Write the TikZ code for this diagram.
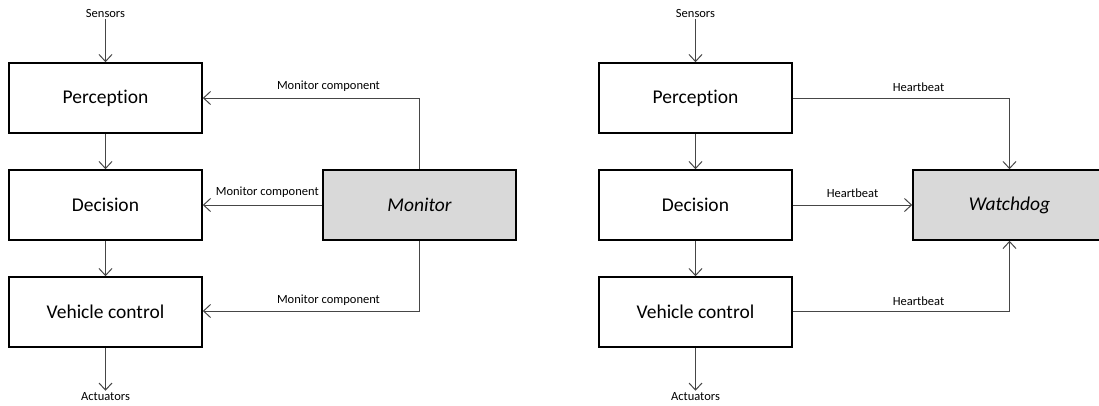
\documentclass[tikz,border=0pt]{standalone}
\usepackage{fontspec}
\setmainfont{Carlito}[Ligatures=NoCommon]
\usetikzlibrary{arrows.meta}

\definecolor{linegray}{RGB}{70,70,70}
\definecolor{boxgray}{RGB}{217,217,217}

\begin{document}
\begin{tikzpicture}[x=1pt, y=-1pt,
    block/.style={draw, line width=1.6pt, minimum width=193pt, minimum height=70pt,
                  inner sep=0pt, font=\fontsize{19.5}{22}\selectfont},
    guard/.style={block, fill=boxgray, font=\fontsize{19.5}{22}\selectfont\itshape},
    lbl/.style={font=\fontsize{12.5}{14}\selectfont, inner sep=2pt},
    conn/.style={draw=linegray, line width=1pt, -{Straight Barb[length=7pt, width=13pt]}}]

  \useasboundingbox (0,0) rectangle (1099,405);

  % left: monitor
  \node[lbl] (sens) at (105.5,13) {Sensors};
  \node[block] (perc) at (105.5,98) {Perception};
  \node[block] (dec) at (105.5,205) {Decision};
  \node[block] (veh) at (105.5,312) {Vehicle control};
  \node[lbl] (act) at (105.5,397) {Actuators};
  \node[guard] (mon) at (419.5,205) {Monitor};

  \draw[conn] (sens) -- (perc);
  \draw[conn] (perc) -- (dec);
  \draw[conn] (dec) -- (veh);
  \draw[conn] (veh) -- (act);

  \draw[conn] (mon.north) |- node[lbl, above=4pt, pos=0.71] {Monitor component} (perc.east);
  \draw[conn] (mon.west) -- node[lbl, above=5pt, pos=0.46] {Monitor component} (dec.east);
  \draw[conn] (mon.south) |- node[lbl, above=3pt, pos=0.71] {Monitor component} ([yshift=1pt]veh.east);

  % right: watchdog
  \node[lbl] (sens2) at (695.5,13) {Sensors};
  \node[block] (perc2) at (695.5,98) {Perception};
  \node[block] (dec2) at (695.5,205) {Decision};
  \node[block] (veh2) at (695.5,312) {Vehicle control};
  \node[lbl] (act2) at (695.5,397) {Actuators};
  \node[guard] (wd) at (1009.5,205) {Watchdog};

  \draw[conn] (sens2) -- (perc2);
  \draw[conn] (perc2) -- (dec2);
  \draw[conn] (dec2) -- (veh2);
  \draw[conn] (veh2) -- (act2);

  \draw[conn] (perc2.east) -| node[lbl, above=4pt, pos=0.29] {Heartbeat} (wd.north);
  \draw[conn] (dec2.east) -- node[lbl, above=5pt] {Heartbeat} (wd.west);
  \draw[conn] ([yshift=1pt]veh2.east) -| node[lbl, above=3pt, pos=0.29] {Heartbeat} (wd.south);

\end{tikzpicture}
\end{document}
